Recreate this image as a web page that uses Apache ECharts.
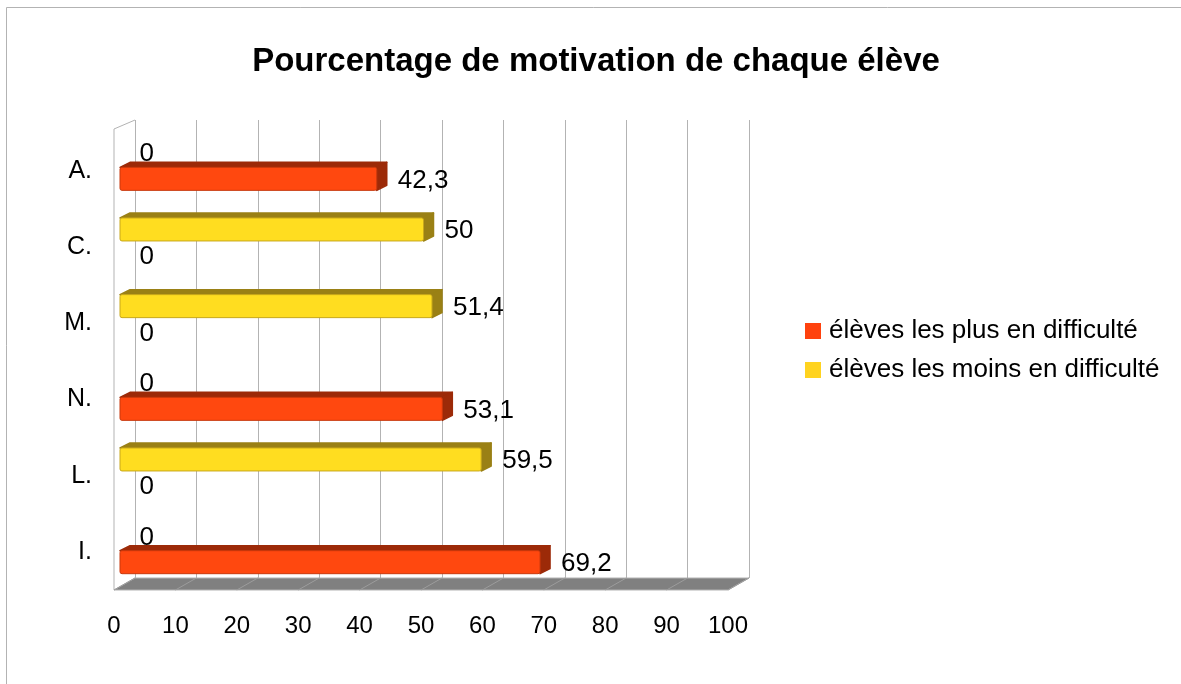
<!DOCTYPE html>
<html>
<head>
<meta charset="utf-8">
<title>Pourcentage de motivation</title>
<script src="https://cdn.jsdelivr.net/npm/echarts@6/dist/echarts.min.js"></script>
<style>
  html, body { margin: 0; padding: 0; background: #fff; }
  #chart { width: 1181px; height: 684px; }
</style>
</head>
<body>
<div id="chart"></div>
<script>
const categories = ['A.', 'C.', 'M.', 'N.', 'L.', 'I.']
const plusEnDifficulte = [42.3, 0, 0, 53.1, 0, 69.2]
const moinsEnDifficulte = [0, 50, 51.4, 0, 59.5, 0]
const xTicks = [0, 10, 20, 30, 40, 50, 60, 70, 80, 90, 100]

const font = '"Liberation Sans", Arial, sans-serif'

// decalage de la perspective entre le plan avant et le plan arriere
const depthX = 21
const depthY = -12
const barDepthX = 10
const barDepthY = -5

// une barre = face avant + dessus + cote + etiquette
const renderBar = (slot, front, dark, edge) => (params, api) => {
  const value = api.value(0)
  const start = api.coord([0, api.value(1)])
  const end = api.coord([value, api.value(1)])
  const band = api.size([0, 1])[1]
  const h = 23
  const y = start[1] + band * slot - h / 2
  const children = []
  if (value > 0) {
    const x0 = start[0]
    const x1 = end[0]
    const shade = { fill: dark, stroke: dark, lineWidth: 1.5, lineJoin: 'round' }
    children.push({
      type: 'polygon',
      shape: { points: [[x0, y], [x0 + barDepthX, y + barDepthY], [x1 + barDepthX, y + barDepthY], [x1, y]] },
      style: shade
    })
    children.push({
      type: 'polygon',
      shape: { points: [[x1, y], [x1 + barDepthX, y + barDepthY], [x1 + barDepthX, y + h + barDepthY], [x1, y + h]] },
      style: shade
    })
    children.push({
      type: 'rect',
      shape: { x: x0, y: y, width: x1 - x0, height: h, r: 2 },
      style: { fill: front, stroke: edge, lineWidth: 1 }
    })
  }
  children.push({
    type: 'text',
    x: value > 0 ? end[0] + 21 : end[0] + 19.5,
    y: y + h / 2 + 1.5,
    style: {
      text: String(value).replace('.', ','),
      font: '26px ' + font,
      fill: '#000',
      align: 'left',
      verticalAlign: 'middle'
    },
    z2: 10
  })
  return { type: 'group', children }
}

// sol gris et parois, calcules depuis le repere avant
const renderFloor = (params, api) => {
  const cs = params.coordSys
  const left = cs.x
  const right = cs.x + cs.width
  const bottom = cs.y + cs.height
  const top = cs.y - 4
  const children = [{
    type: 'polygon',
    shape: { points: [[left, bottom], [left + depthX, bottom + depthY], [right + depthX, bottom + depthY], [right, bottom]] },
    style: { fill: '#808080', stroke: '#b3b3b3', lineWidth: 1 }
  }, {
    type: 'polyline',
    shape: { points: [[left, bottom], [left, top], [left + depthX, top - 9]] },
    style: { fill: 'none', stroke: '#b3b3b3', lineWidth: 1 }
  }]
  xTicks.forEach(t => {
    const x = api.coord([t, 0])[0]
    children.push({
      type: 'line',
      shape: { x1: x, y1: bottom, x2: x + depthX, y2: bottom + depthY },
      style: { stroke: '#9c9c9c', lineWidth: 1 }
    })
  })
  return { type: 'group', children }
}

const chart = echarts.init(document.getElementById('chart'), null, { renderer: 'canvas' })

chart.setOption({
  animation: false,
  backgroundColor: '#fff',
  title: {
    text: 'Pourcentage de motivation de chaque élève',
    left: 591,
    top: 57,
    textAlign: 'center',
    textVerticalAlign: 'middle',
    textStyle: { fontFamily: font, fontSize: 33, fontWeight: 'bold', color: '#000' }
  },
  graphic: [{
    // cadre gris du document d'origine (haut et gauche)
    type: 'polyline',
    silent: true,
    shape: { points: [[6.5, 684], [6.5, 7.5], [1181, 7.5]] },
    style: { fill: 'none', stroke: '#b3b3b3', lineWidth: 1 }
  }],
  legend: {
    orient: 'vertical',
    left: 800,
    top: 313,
    itemWidth: 16,
    itemHeight: 16,
    itemGap: 13,
    icon: 'rect',
    textStyle: { fontFamily: font, fontSize: 26, color: '#000', padding: [0, 0, 0, 3] },
    data: ['élèves les plus en difficulté', 'élèves les moins en difficulté']
  },
  grid: [
    // plan arriere : lignes verticales
    { left: 135, top: 120, width: 614, height: 458 },
    // plan avant : graduations et categories
    { left: 114, top: 133, width: 614, height: 457 },
    // plan des barres
    { left: 120, top: 127.5, width: 607, height: 460 }
  ],
  xAxis: [
    {
      gridIndex: 0, type: 'value', min: 0, max: 100, interval: 10,
      axisLine: { show: false }, axisTick: { show: false }, axisLabel: { show: false },
      splitLine: { show: true, lineStyle: { color: '#b3b3b3', width: 1 } }
    },
    {
      gridIndex: 1, type: 'value', min: 0, max: 100, interval: 10,
      axisLine: { show: false }, axisTick: { show: false }, splitLine: { show: false },
      axisLabel: { fontFamily: font, fontSize: 24, color: '#000', margin: 24, showMinLabel: true, showMaxLabel: true }
    },
    {
      gridIndex: 2, type: 'value', min: 0, max: 100,
      axisLine: { show: false }, axisTick: { show: false }, axisLabel: { show: false }, splitLine: { show: false }
    }
  ],
  yAxis: [
    {
      gridIndex: 0, type: 'category', data: categories, inverse: true,
      axisLine: { show: false }, axisTick: { show: false }, axisLabel: { show: false }
    },
    {
      gridIndex: 1, type: 'category', data: categories, inverse: true,
      axisLine: { show: false }, axisTick: { show: false },
      axisLabel: { fontFamily: font, fontSize: 25, color: '#000', margin: 22 }
    },
    {
      gridIndex: 2, type: 'category', data: categories, inverse: true,
      axisLine: { show: false }, axisTick: { show: false }, axisLabel: { show: false }
    }
  ],
  series: [
    {
      type: 'custom',
      xAxisIndex: 1,
      yAxisIndex: 1,
      silent: true,
      z: 1,
      renderItem: renderFloor,
      data: [[0, 0]]
    },
    {
      name: 'élèves les plus en difficulté',
      type: 'custom',
      xAxisIndex: 2,
      yAxisIndex: 2,
      z: 3,
      itemStyle: { color: '#FF420E' },
      renderItem: renderBar(0.17, '#FF480F', '#9C2A08', '#C9380C'),
      encode: { x: 0, y: 1 },
      data: plusEnDifficulte.map((v, i) => [v, i])
    },
    {
      name: 'élèves les moins en difficulté',
      type: 'custom',
      xAxisIndex: 2,
      yAxisIndex: 2,
      z: 3,
      itemStyle: { color: '#FFD320' },
      renderItem: renderBar(-0.17, '#FFDD20', '#9A8015', '#C9A81A'),
      encode: { x: 0, y: 1 },
      data: moinsEnDifficulte.map((v, i) => [v, i])
    }
  ]
})
</script>
</body>
</html>
